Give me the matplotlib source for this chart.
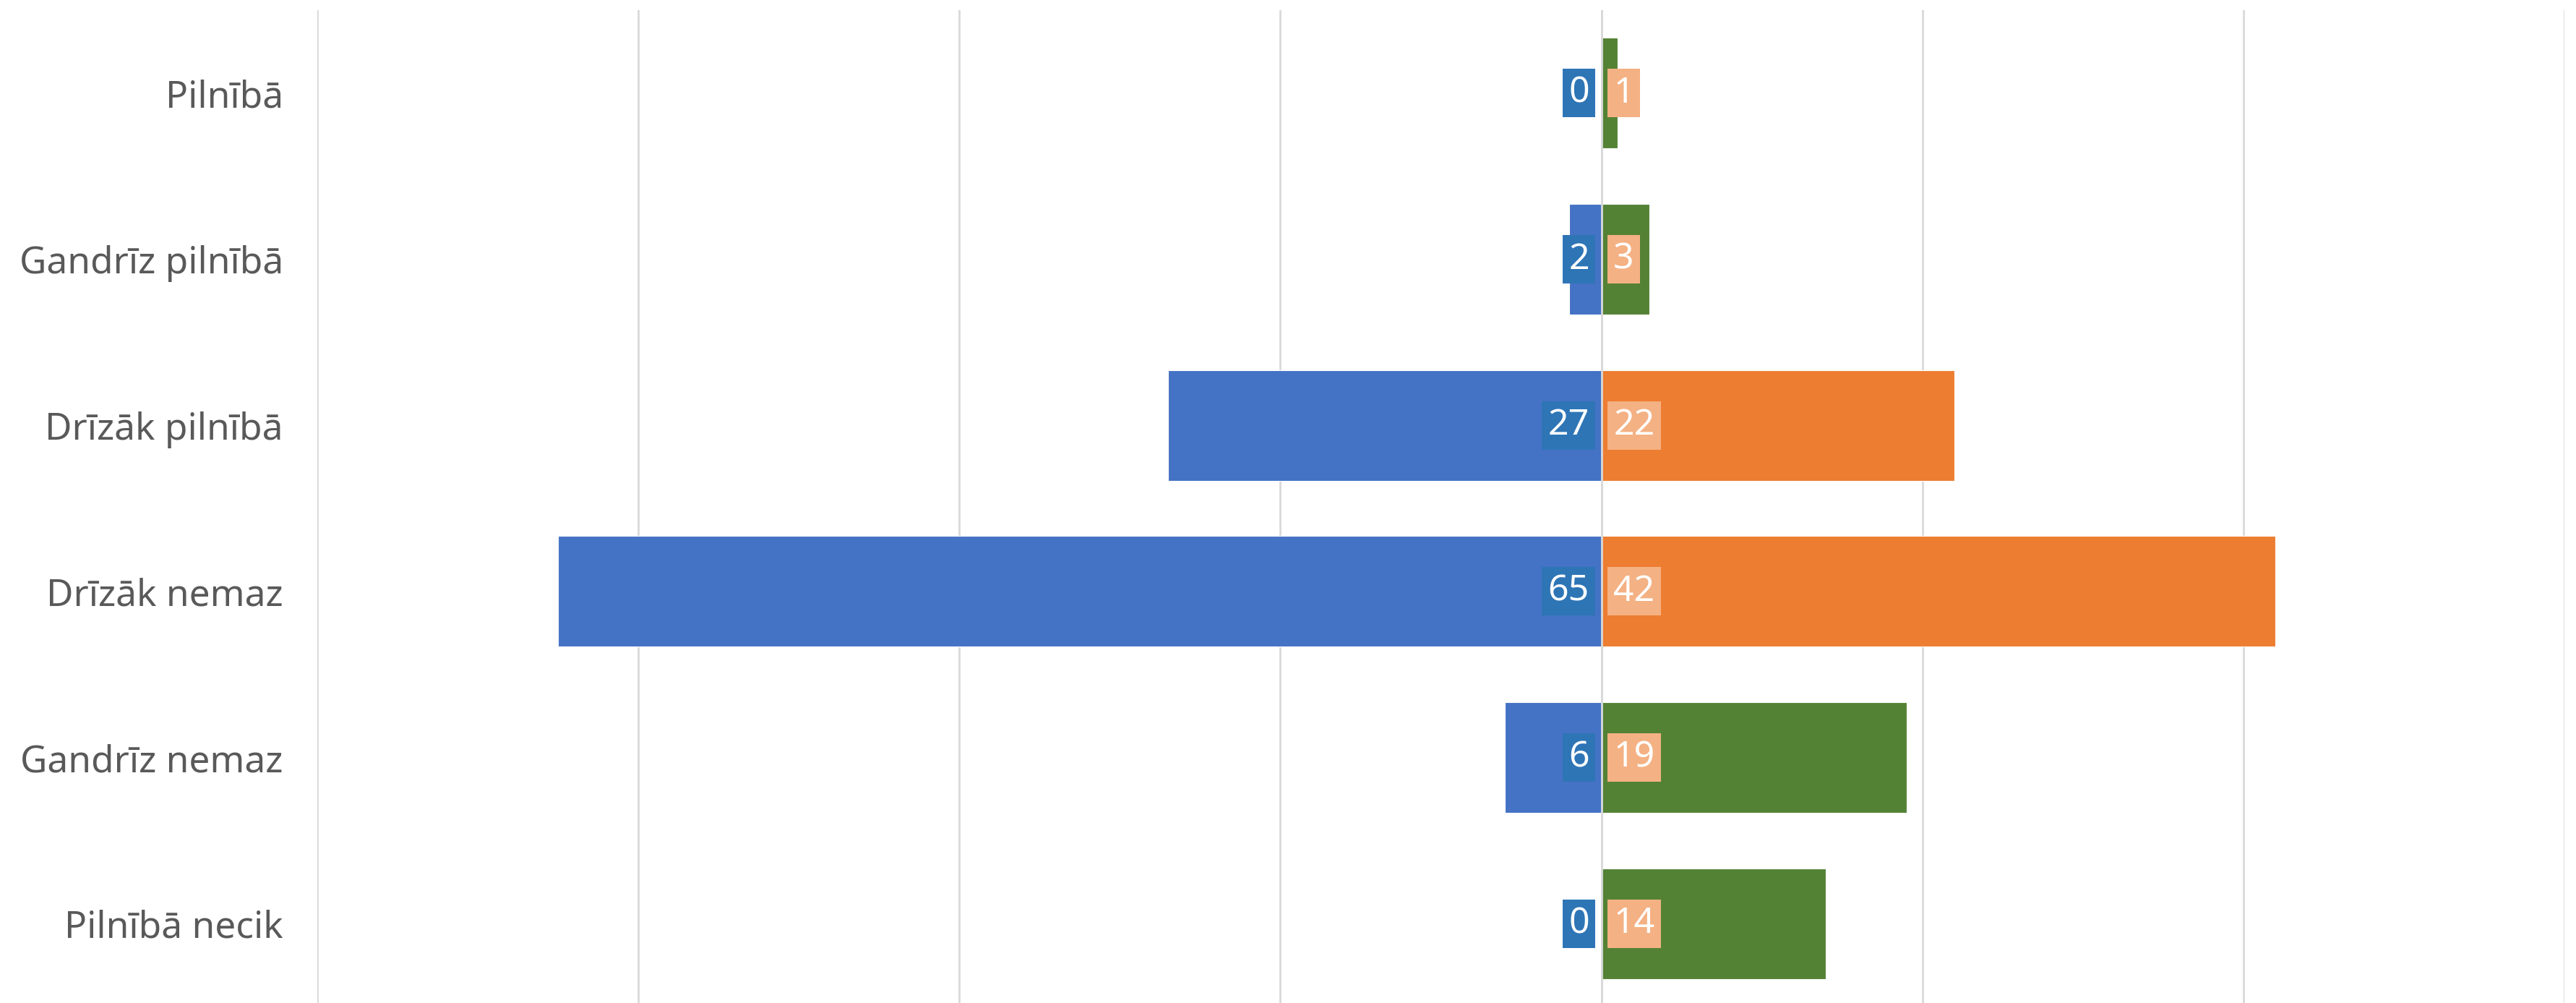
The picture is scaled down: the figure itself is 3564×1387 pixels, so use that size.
import matplotlib.pyplot as plt
import numpy as np

categories = ['Pilnībā', 'Gandrīz pilnībā', 'Drīzāk pilnībā', 'Drīzāk nemaz', 'Gandrīz nemaz', 'Pilnībā necik']
left_vals = [0, 2, 27, 65, 6, 0]
right_vals = [1, 3, 22, 42, 19, 14]
right_colors = ['#548235', '#548235', '#ED7D31', '#ED7D31', '#548235', '#548235']

plt.rcParams['font.family'] = ['Noto Sans', 'DejaVu Sans']

fig = plt.figure(figsize=(35.64, 13.87), dpi=100)
ax = fig.add_axes([439/3564, -5/1387, (3548-439)/3564, 1378/1387])

y = np.arange(len(categories))
ax.barh(y, [-v for v in left_vals], height=0.667, color='#4472C4', edgecolor='white', linewidth=0.8, zorder=2)
ax.barh(y, right_vals, height=0.667, color=right_colors, edgecolor='white', linewidth=0.8, zorder=2)
ax.axvline(0, color='#D9D9D9', lw=2, zorder=3)

for i in range(len(categories)):
    ax.annotate(str(left_vals[i]), xy=(0, i), xytext=(-12, 0), textcoords='offset points',
                ha='right', va='center', fontsize=36, color='white', zorder=5,
                bbox=dict(boxstyle='square,pad=0.17', fc='#2E75B6', ec='none'))
    ax.annotate(str(right_vals[i]), xy=(0, i), xytext=(12, 0), textcoords='offset points',
                ha='left', va='center', fontsize=36, color='white', zorder=5,
                bbox=dict(boxstyle='square,pad=0.17', fc='#F4B183', ec='none'))

ax.set_xlim(-80, 60)
ax.set_ylim(5.5, -0.5)
ax.set_xticks(np.arange(-80, 61, 20))
ax.set_xticklabels([])
ax.xaxis.grid(True, color='#D9D9D9', lw=2)
ax.set_axisbelow(True)
ax.set_yticks(y)
ax.set_yticklabels(categories, fontsize=37, color='#595959')
ax.tick_params(axis='both', length=0)
ax.tick_params(axis='y', pad=34)
for s in ax.spines.values():
    s.set_visible(False)

fig.savefig('out.png', dpi=100, facecolor='white')
